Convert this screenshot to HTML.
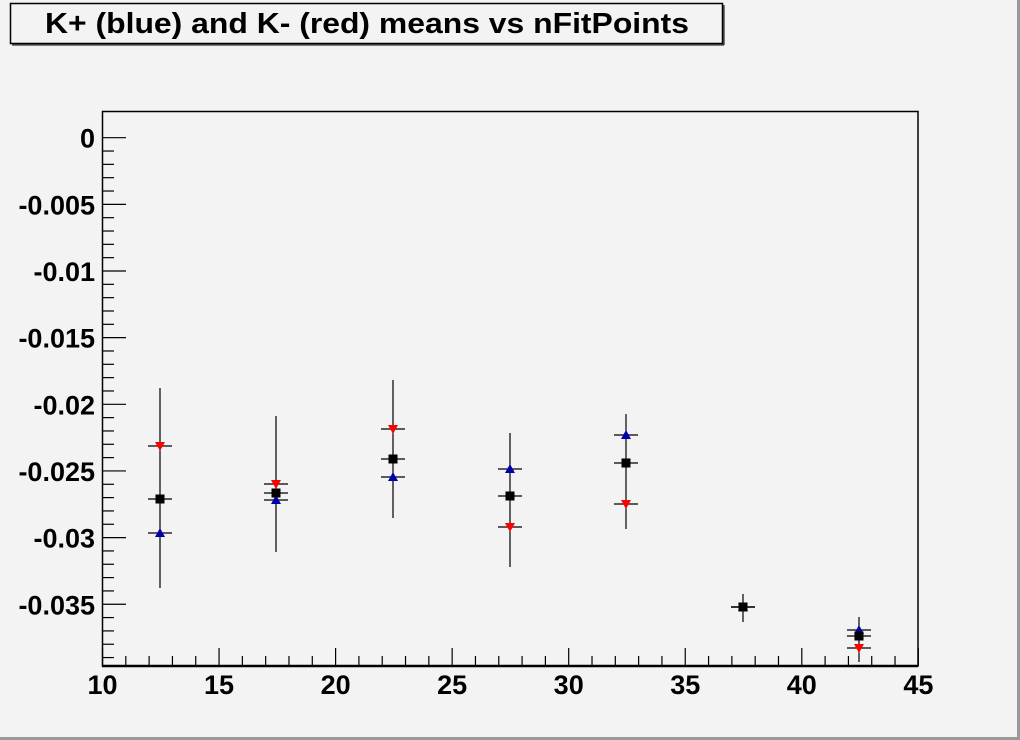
<!DOCTYPE html>
<html><head><meta charset="utf-8"><style>
html,body{margin:0;padding:0;background:#f3f3f3;}
svg{display:block;font-family:"Liberation Sans",Arial,sans-serif;font-weight:bold;}
</style></head><body>
<svg width="1020" height="740" viewBox="0 0 1020 740" xmlns="http://www.w3.org/2000/svg">
<rect x="0" y="0" width="1020" height="740" fill="#f3f3f3"/>
<line x1="0" y1="738.5" x2="1020" y2="738.5" stroke="#999" stroke-width="3"/>
<line x1="1018.5" y1="0" x2="1018.5" y2="740" stroke="#999" stroke-width="3"/>
<rect x="10.5" y="3.5" width="712" height="40" fill="#f3f3f3" stroke="#000" stroke-width="1.5"/>
<line x1="12" y1="45" x2="724" y2="45" stroke="#000" stroke-width="1"/>
<line x1="724" y1="5" x2="724" y2="45" stroke="#000" stroke-width="1"/>
<text x="45" y="33" font-size="29" textLength="644" lengthAdjust="spacingAndGlyphs">K+ (blue) and K- (red) means vs nFitPoints</text>
<rect x="102.5" y="111.5" width="815.5" height="554.5" fill="none" stroke="#000" stroke-width="1.5"/>
<line x1="102" y1="666" x2="918" y2="666" stroke="#000" stroke-width="2.5"/>
<g id="yt" stroke="#000" stroke-width="1.2"></g>
<g id="xt" stroke="#000" stroke-width="1.2"></g>
<g id="yl" font-size="27" text-anchor="end"></g>
<g id="xl" font-size="27" text-anchor="middle"></g>
<g id="pts"></g>
</svg>
<script>
var ns="http://www.w3.org/2000/svg";
function el(p,t,a,txt){var e=document.createElementNS(ns,t);for(var k in a)e.setAttribute(k,a[k]);if(txt!==undefined)e.textContent=txt;document.getElementById(p).appendChild(e);return e;}
function Y(v){return 137.7+(-v)/0.005*66.65;}
function X(v){return 102.5+(v-10)*23.31;}
for(var i=-39;i<=0;i++){var y=Y(i*0.001);if(y>665||y<112)continue;var maj=(i%5==0);el("yt","line",{x1:103,y1:y,x2:103+(maj?23:11),y2:y});}
for(var i=10;i<=45;i++){var x=X(i),maj=(i%5==0);el("xt","line",{x1:x,y1:666,x2:x,y2:666-(maj?18:10)});}
var labs=["0","-0.005","-0.01","-0.015","-0.02","-0.025","-0.03","-0.035"];
for(var i=0;i<8;i++)el("yl","text",{x:95,y:Y(-i*0.005)+10},labs[i]);
for(var i=10;i<=45;i+=5)el("xl","text",{x:X(i),y:694},""+i);
var d=[[160,446,499,533,388,588],[276,484,493,500,416,552],[393,429,459,477,380,518],[510,527,496,469,433,567],[626,504,463,435,414,529],[743,607,607,607,594,622],[859,648,636,630,617,662]];
d.forEach(function(p){var x=p[0];
el("pts","line",{x1:x,y1:p[4],x2:x,y2:p[5],stroke:"#000","stroke-width":1.2});
[p[1],p[2],p[3]].forEach(function(y){el("pts","line",{x1:x-12,y1:y,x2:x+12,y2:y,stroke:"#000","stroke-width":1.2});});
el("pts","polygon",{points:(x-5)+","+(p[1]-4)+" "+(x+5)+","+(p[1]-4)+" "+x+","+(p[1]+5),fill:"#ff0000"});
el("pts","polygon",{points:(x-5)+","+(p[3]+4)+" "+(x+5)+","+(p[3]+4)+" "+x+","+(p[3]-5),fill:"#0000aa"});
el("pts","rect",{x:x-4.5,y:p[2]-4.5,width:9,height:9,fill:"#000"});
});
</script>
</body></html>
